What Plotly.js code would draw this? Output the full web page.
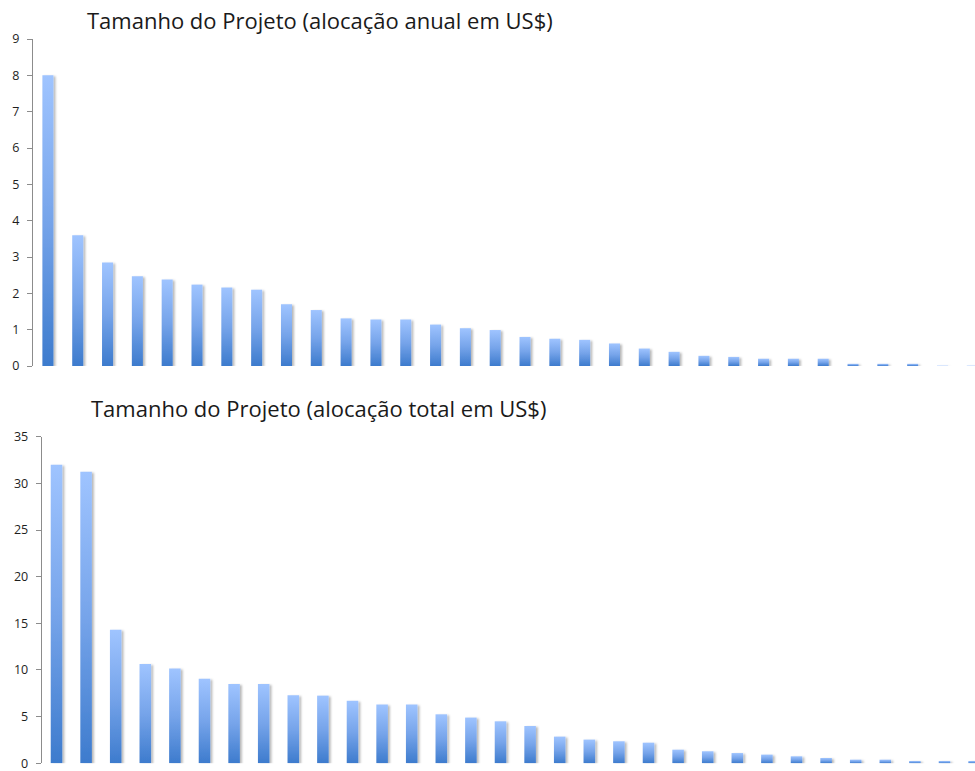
<!DOCTYPE html>
<html>
<head>
<meta charset="utf-8">
<script src="https://cdn.plot.ly/plotly-3.0.1.min.js"></script>
<style>
  html, body { margin: 0; padding: 0; background: #fff; overflow: hidden; }
  #chart { width: 975px; height: 771px; }
</style>
</head>
<body>
<div id="chart"></div>
<script>
// Categories (projects, ranked)
const projects = Array.from({length: 32}, (_, i) => 'P' + (i + 1));

// Annual allocation (US$)
const annualValues = [8.0, 3.6, 2.85, 2.47, 2.38, 2.24, 2.16, 2.10, 1.70, 1.54,
  1.31, 1.28, 1.28, 1.14, 1.04, 0.99, 0.80, 0.75, 0.72, 0.62,
  0.48, 0.39, 0.28, 0.25, 0.20, 0.20, 0.20, 0.06, 0.06, 0.06,
  0.01, 0.01];

// Total allocation (US$)
const totalValues = [32.0, 31.25, 14.3, 10.65, 10.15, 9.05, 8.5, 8.5, 7.3, 7.25,
  6.7, 6.3, 6.3, 5.25, 4.9, 4.5, 4.0, 2.86, 2.54, 2.36,
  2.21, 1.46, 1.29, 1.1, 0.93, 0.75, 0.57, 0.39, 0.39, 0.25,
  0.25, 0.25];

const titleTop = 'Tamanho do Projeto (alocação anual em US$)';
const titleBottom = 'Tamanho do Projeto (alocação total em US$)';

const W = 975, H = 771;
const axisColor = '#8c8c8c';
const tickFont = {family: '"Open Sans", Lato, sans-serif', size: 12.5, color: '#1e1e1e'};
const titleFont = {family: '"Open Sans", Lato, sans-serif', size: 22, color: '#1a1a1a'};

const traces = [
  {type: 'bar', x: projects, y: annualValues, xaxis: 'x', yaxis: 'y',
   width: 0.37, marker: {color: '#6c9ee6', line: {width: 0}}, hoverinfo: 'none'},
  {type: 'bar', x: projects, y: totalValues, xaxis: 'x2', yaxis: 'y2',
   width: 0.39, marker: {color: '#6c9ee6', line: {width: 0}}, hoverinfo: 'none'}
];

const yBase = {
  showline: true, linecolor: axisColor, linewidth: 1,
  ticks: 'outside', ticklen: 5, tickcolor: axisColor, tickwidth: 1,
  ticklabelstandoff: 5, ticklabeloverflow: 'allow',
  showgrid: false, zeroline: false, tickfont: tickFont, fixedrange: true
};
const xBase = {
  type: 'category', showline: false, showticklabels: false, ticks: '',
  showgrid: false, zeroline: false, fixedrange: true
};

const layout = {
  width: W, height: H,
  margin: {l: 0, r: 0, t: 0, b: 0},
  paper_bgcolor: '#ffffff', plot_bgcolor: '#ffffff',
  showlegend: false,
  xaxis: Object.assign({}, xBase, {domain: [33 / W, 1], range: [-0.5, 31.09], anchor: 'y'}),
  yaxis: Object.assign({}, yBase, {domain: [(H - 366) / H, (H - 39) / H], range: [0, 9], dtick: 1, anchor: 'x'}),
  xaxis2: Object.assign({}, xBase, {domain: [41.7 / W, 1], range: [-0.5, 31.03], anchor: 'y2'}),
  yaxis2: Object.assign({}, yBase, {domain: [(H - 763.3) / H, (H - 436.7) / H], range: [0, 35], dtick: 5, anchor: 'x2'}),
  annotations: [
    {text: titleTop, xref: 'paper', yref: 'paper', x: 320 / W, y: (H - 20) / H,
     xanchor: 'center', yanchor: 'middle', showarrow: false, font: titleFont},
    {text: titleBottom, xref: 'paper', yref: 'paper', x: 318 / W, y: (H - 408) / H,
     xanchor: 'center', yanchor: 'middle', showarrow: false, font: titleFont}
  ]
};

Plotly.newPlot('chart', traces, layout, {staticPlot: true, displayModeBar: false}).then(function (gd) {
  const svg = gd.querySelector('svg.main-svg');
  const ns = 'http://www.w3.org/2000/svg';
  let defs = svg.querySelector('defs');
  if (!defs) { defs = document.createElementNS(ns, 'defs'); svg.insertBefore(defs, svg.firstChild); }
  const grad = document.createElementNS(ns, 'linearGradient');
  grad.setAttribute('id', 'barGrad');
  grad.setAttribute('x1', '0'); grad.setAttribute('y1', '0');
  grad.setAttribute('x2', '0'); grad.setAttribute('y2', '1');
  [['0', '#9fc4ff'], ['0.5', '#76a4ea'], ['1', '#3d7bcd']].forEach(function (s) {
    const st = document.createElementNS(ns, 'stop');
    st.setAttribute('offset', s[0]); st.setAttribute('stop-color', s[1]);
    grad.appendChild(st);
  });
  defs.appendChild(grad);
  const filt = document.createElementNS(ns, 'filter');
  filt.setAttribute('id', 'barShadow');
  filt.setAttribute('filterUnits', 'userSpaceOnUse');
  filt.setAttribute('x', '-200'); filt.setAttribute('y', '-200');
  filt.setAttribute('width', '2000'); filt.setAttribute('height', '2000');
  const ds = document.createElementNS(ns, 'feDropShadow');
  ds.setAttribute('dx', '2'); ds.setAttribute('dy', '1');
  ds.setAttribute('stdDeviation', '1.3');
  ds.setAttribute('flood-color', '#000000'); ds.setAttribute('flood-opacity', '0.28');
  filt.appendChild(ds);
  defs.appendChild(filt);
  gd.querySelectorAll('g.trace.bars path').forEach(function (p) {
    p.style.fill = 'url(#barGrad)';
    p.setAttribute('filter', 'url(#barShadow)');
  });
});
</script>
</body>
</html>
